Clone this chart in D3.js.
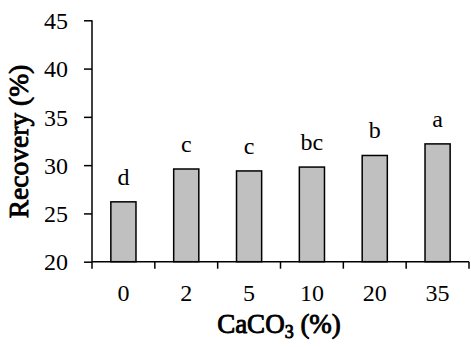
<!DOCTYPE html>
<html><head><meta charset="utf-8">
<script src="https://cdn.jsdelivr.net/npm/d3@7"></script>
</head><body style="margin:0;background:#fff">
<svg id="c" width="471" height="347" style="display:block"></svg>
<script>
const categories = ["0","2","5","10","20","35"];
const values = [26.2, 29.6, 29.4, 29.8, 31.0, 32.2];
const letters = ["d","c","c","bc","b","a"];
const yTicks = [20,25,30,35,40,45];

const FONT = '"Liberation Serif"';
const svg = d3.select("#c");
const pL = 92, pR = 469, pT = 20.3, pB = 261.7;
const x = d3.scaleBand().domain(categories).range([pL, pR]).paddingInner(0.6).paddingOuter(0.3);
const y = d3.scaleLinear().domain([20,45]).range([pB, pT]);

svg.selectAll("rect.bar").data(values).enter().append("rect")
  .attr("x",(d,i)=>x(categories[i])).attr("width",x.bandwidth())
  .attr("y",d=>y(d)).attr("height",d=>y(20)-y(d))
  .attr("fill","#c0c0c0").attr("stroke","#000").attr("stroke-width",1.5);

svg.selectAll("text.lab").data(values).enter().append("text")
  .style("font-family", FONT)
  .attr("x",(d,i)=>x(categories[i])+x.bandwidth()/2)
  .attr("y",d=>y(d)-17).attr("text-anchor","middle")
  .attr("font-size",24).text((d,i)=>letters[i]);

const ya = svg.append("g").attr("transform",`translate(${pL},0)`)
  .call(d3.axisLeft(y).tickValues(yTicks).tickSize(8).tickPadding(16).tickFormat(d3.format("d")));
ya.attr("font-size", 24);
ya.select(".domain").attr("stroke","#000").attr("stroke-width",1.5).attr("d",`M0,${pT}V${pB}`);
ya.selectAll(".tick line").attr("stroke","#000").attr("stroke-width",1.5);
ya.selectAll(".tick text").attr("fill","#000").attr("dy","0.34em")
  .style("font-family", FONT).attr("font-size",24);

const xa = svg.append("g").attr("transform",`translate(0,${pB})`);
xa.append("line").attr("x1",pL).attr("x2",pR).attr("stroke","#000").attr("stroke-width",1.5);
const bounds = d3.range(categories.length+1).map(i=>pL+i*(pR-pL)/categories.length);
xa.selectAll("line.t").data(bounds).enter().append("line")
  .attr("x1",d=>d).attr("x2",d=>d).attr("y1",0).attr("y2",7)
  .attr("stroke","#000").attr("stroke-width",1.5);
xa.selectAll("text.t").data(categories).enter().append("text")
  .attr("x",d=>x(d)+x.bandwidth()/2).attr("y",39).attr("text-anchor","middle")
  .style("font-family", FONT).attr("font-size",24).text(d=>d);

function fit(sel, target, base, maxS){
  const n = sel.node();
  const L = n.getComputedTextLength ? n.getComputedTextLength() : 0;
  if (L > 0) {
    const s = Math.max(20, Math.min(maxS, base * target / L));
    sel.attr("font-size", s);
    return s;
  }
  return base;
}

// bold look: regular serif face with a thin black outline
const xt = svg.append("text").attr("x",279).attr("y",333).attr("text-anchor","middle")
  .style("font-family", FONT).attr("font-size",25)
  .attr("fill","#000").attr("stroke","#000").attr("stroke-width",0.9).attr("stroke-linejoin","round");
xt.append("tspan").text("CaCO");
const sub = xt.append("tspan").attr("dy",5).attr("font-size",16).text("3");
xt.append("tspan").attr("dy",-5).text(" (%)");
const xs = fit(xt, 132, 25, 27);
sub.attr("font-size", Math.round(xs*0.65));

const yt = svg.append("text").attr("transform",`translate(28,141.5) rotate(-90)`).attr("text-anchor","middle")
  .style("font-family", FONT).attr("font-size",25)
  .attr("fill","#000").attr("stroke","#000").attr("stroke-width",0.9).attr("stroke-linejoin","round")
  .text("Recovery (%)");
fit(yt, 154, 25, 27.5);
</script>
</body></html>
